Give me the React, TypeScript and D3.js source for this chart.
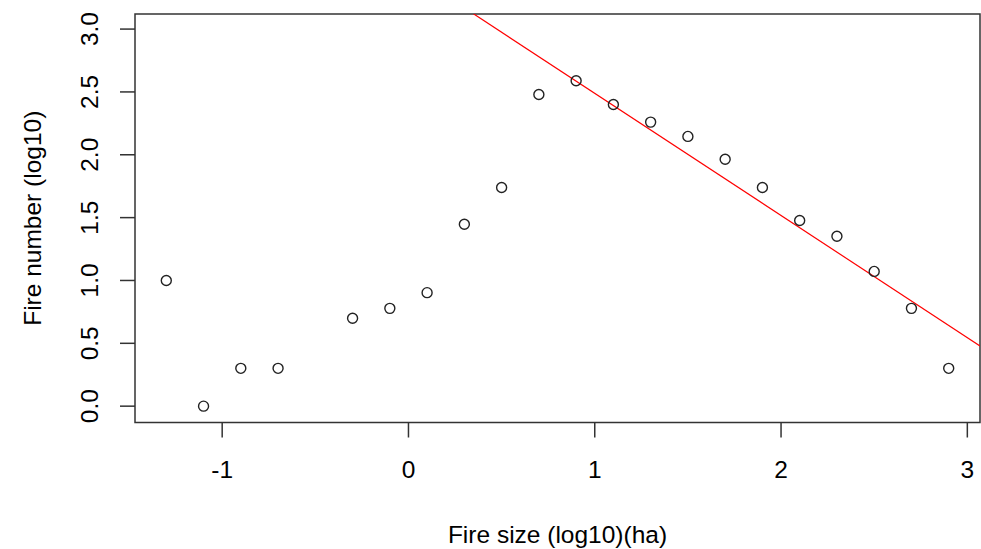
import React from "react";
import * as d3 from "d3";

const sizes = [-1.3, -1.1, -0.9, -0.7, -0.3, -0.1, 0.1, 0.3, 0.5, 0.7, 0.9, 1.1, 1.3, 1.5, 1.7, 1.9, 2.1, 2.3, 2.5, 2.7, 2.9];
const counts = [1.0, 0.0, 0.301, 0.301, 0.699, 0.778, 0.903, 1.447, 1.74, 2.48, 2.589, 2.4, 2.26, 2.146, 1.964, 1.74, 1.477, 1.352, 1.072, 0.778, 0.301];
const xTicks = [-1, 0, 1, 2, 3];
const yTicks = [0, 0.5, 1, 1.5, 2, 2.5, 3];
const fitSlope = -0.972;
const fitIntercept = 3.461;

export default function App() {
  const W = 981, H = 549;
  const left = 135, right = 980, top = 14, bottom = 422.5;
  const x = d3.scaleLinear().domain([-1.468, 3.068]).range([left, right]);
  const y = d3.scaleLinear().domain([-0.13, 3.12]).range([bottom, top]);
  const font = "'Liberation Sans', Arial, sans-serif";
  const axisColor = "#333";
  const [x0, x1] = x.domain();
  const lineData: [number, number][] = [x0, x1].map((v) => [v, fitIntercept + fitSlope * v]);
  const line = d3.line<[number, number]>().x((d) => x(d[0])).y((d) => y(d[1]));
  return (
    <svg width={W} height={H} style={{ position: "absolute", left: 0, top: 0, background: "#fff" }}>
      <defs>
        <clipPath id="plotclip">
          <rect x={left} y={top} width={right - left} height={bottom - top} />
        </clipPath>
      </defs>
      <rect x={left} y={top} width={right - left} height={bottom - top} fill="none" stroke={axisColor} strokeWidth={1.5} />
      {xTicks.map((t) => (
        <g key={"x" + t}>
          <line x1={x(t)} x2={x(t)} y1={bottom} y2={bottom + 15} stroke={axisColor} strokeWidth={1.5} />
          <text x={x(t)} y={478} textAnchor="middle" fontFamily={font} fontSize={24.5} fill="#000">
            {t < 0 ? "-" + Math.abs(t) : String(t)}
          </text>
        </g>
      ))}
      {yTicks.map((t) => (
        <g key={"y" + t}>
          <line x1={left - 15} x2={left} y1={y(t)} y2={y(t)} stroke={axisColor} strokeWidth={1.5} />
          <text
            transform={`translate(${98},${y(t)}) rotate(-90)`}
            textAnchor="middle"
            fontFamily={font}
            fontSize={24.5}
            fill="#000"
          >
            {t.toFixed(1)}
          </text>
        </g>
      ))}
      <text x={(left + right) / 2} y={543} textAnchor="middle" fontFamily={font} fontSize={24.5} fill="#000">
        Fire size (log10)(ha)
      </text>
      <text
        transform={`translate(${41},${(top + bottom) / 2}) rotate(-90)`}
        textAnchor="middle"
        fontFamily={font}
        fontSize={24.5}
        fill="#000"
      >
        Fire number (log10)
      </text>
      <path d={line(lineData) || ""} stroke="#ff0000" strokeWidth={1.2} fill="none" clipPath="url(#plotclip)" />
      {sizes.map((s, i) => (
        <circle key={i} cx={x(s)} cy={y(counts[i])} r={5} fill="none" stroke="#222" strokeWidth={1.4} />
      ))}
    </svg>
  );
}
